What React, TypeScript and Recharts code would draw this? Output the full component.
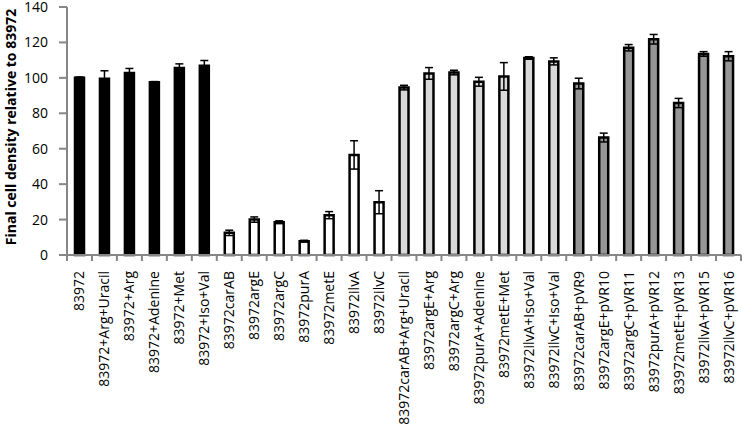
import { BarChart, Bar, XAxis, YAxis, Cell, ErrorBar } from 'recharts'

const strains = [
  '83972',
  '83972+Arg+Uracil',
  '83972+Arg',
  '83972+Adenine',
  '83972+Met',
  '83972+Iso+Val',
  '83972carAB',
  '83972argE',
  '83972argC',
  '83972purA',
  '83972metE',
  '83972ilvA',
  '83972ilvC',
  '83972carAB+Arg+Uracil',
  '83972argE+Arg',
  '83972argC+Arg',
  '83972purA+Adenine',
  '83972metE+Met',
  '83972ilvA+Iso+Val',
  '83972ilvC+Iso+Val',
  '83972carAB+pVR9',
  '83972argE+pVR10',
  '83972argC+pVR11',
  '83972purA+pVR12',
  '83972metE+pVR13',
  '83972ilvA+pVR15',
  '83972ilvC+pVR16',
]

const density = [
  100, 99.5, 102.8, 97.5, 105.5, 106.8,
  12.5, 20, 18.5, 7.8, 22.5, 56.5, 29.8,
  94.5, 102.5, 103, 97.8, 100.8, 111.2, 109.3,
  96.8, 66.3, 117, 121.8, 85.8, 113.5, 112.2,
]

const sd = [
  0.5, 4.5, 2.5, 0.4, 2.4, 3,
  1.5, 1.5, 0.8, 0.5, 2, 8, 6.5,
  1.3, 3.3, 1.3, 2.5, 7.8, 0.7, 2,
  3, 2.5, 1.8, 2.7, 2.6, 1.3, 2.6,
]

// which panel each strain belongs to
const groups = [
  'wt', 'wt', 'wt', 'wt', 'wt', 'wt',
  'mutant', 'mutant', 'mutant', 'mutant', 'mutant', 'mutant', 'mutant',
  'supplemented', 'supplemented', 'supplemented', 'supplemented', 'supplemented', 'supplemented', 'supplemented',
  'complemented', 'complemented', 'complemented', 'complemented', 'complemented', 'complemented', 'complemented',
]

const yTicks = [0, 20, 40, 60, 80, 100, 120, 140]

const groupFill: Record<string, string> = {
  wt: '#000000',
  mutant: '#ffffff',
  supplemented: '#d9d9d9',
  complemented: '#969696',
}

const data = strains.map((name, i) => ({
  name,
  value: density[i],
  err: sd[i],
  group: groups[i],
}))

const W = 742
const H = 428
const LEFT = 67
const RIGHT = 1
const band = (W - LEFT - RIGHT) / strains.length
const axisColor = '#868686'
const font = '"Open Sans", sans-serif'

function StrainTick(props: any) {
  const { x, y, payload, index } = props
  const tx = x + 5
  const ty = y + 16
  return (
    <g>
      <line x1={x - band / 2} y1={y} x2={x - band / 2} y2={y + 6} stroke={axisColor} strokeWidth={2} />
      {index === strains.length - 1 && (
        <line x1={x + band / 2} y1={y} x2={x + band / 2} y2={y + 6} stroke={axisColor} strokeWidth={2} />
      )}
      <text
        x={tx}
        y={ty}
        transform={`rotate(-90, ${tx}, ${ty})`}
        textAnchor="end"
        fontSize={14}
        fontFamily={font}
        fill="#000"
      >
        {payload.value}
      </text>
    </g>
  )
}

export default function App() {
  return (
    <div style={{ position: 'absolute', left: 0, top: 0, background: '#fff' }}>
      <BarChart
        width={W}
        height={H}
        data={data}
        margin={{ top: 7, right: RIGHT, bottom: 0, left: 0 }}
        barSize={9}
      >
        <XAxis
          dataKey="name"
          interval={0}
          height={173}
          tickSize={0}
          tickMargin={0}
          tickLine={false}
          axisLine={{ stroke: axisColor, strokeWidth: 2 }}
          tick={<StrainTick />}
        />
        <YAxis
          width={LEFT}
          domain={[0, 140]}
          ticks={yTicks}
          interval={0}
          tickSize={8}
          tickMargin={11}
          axisLine={{ stroke: axisColor, strokeWidth: 2 }}
          tickLine={{ stroke: axisColor, strokeWidth: 2 }}
          tick={{ fill: '#000', fontSize: 14, fontFamily: font }}
          label={{
            content: ({ viewBox }: any) => {
              const cx = 16
              const cy = viewBox.y + viewBox.height / 2 - 4
              return (
                <text
                  x={cx}
                  y={cy}
                  transform={`rotate(-90, ${cx}, ${cy})`}
                  textAnchor="middle"
                  fontSize={14}
                  fontWeight="bold"
                  fontFamily={font}
                  fill="#000"
                >
                  Final cell density relative to 83972
                </text>
              )
            },
          }}
        />
        <Bar dataKey="value" stroke="#000" strokeWidth={2.5} isAnimationActive={false}>
          {data.map((d) => (
            <Cell key={d.name} fill={groupFill[d.group]} />
          ))}
          <ErrorBar dataKey="err" width={4} stroke="#000" strokeWidth={1.5} direction="y" />
        </Bar>
      </BarChart>
    </div>
  )
}
